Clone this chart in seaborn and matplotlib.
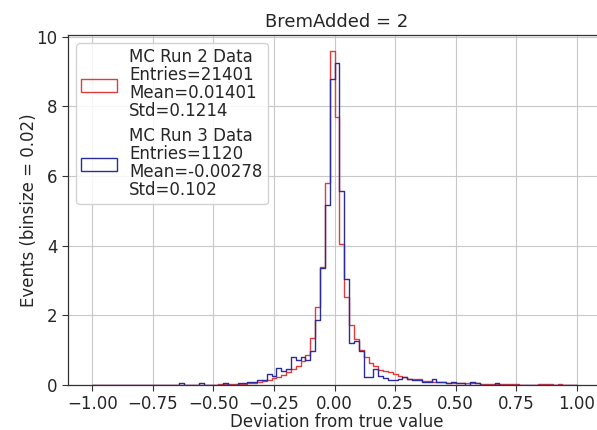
import numpy as np
import pandas as pd
import matplotlib
matplotlib.use("Agg")
import matplotlib.pyplot as plt
import seaborn as sns
from matplotlib.patches import Patch

# ---- data ----
bin_edges = [round(-1.0 + 0.02 * i, 2) for i in range(101)]   # binsize = 0.02

# normalised heights per bin (100 bins from -1.00 to 1.00)
run2_heights = [
    0, 0, 0, 0, 0, 0, 0, 0, 0, 0,                                  # -1.00 .. -0.82
    0, 0, 0, 0, 0, 0, 0, 0, 0, 0,                                  # -0.80 .. -0.62
    0, 0, 0, 0, 0, 0.01, 0.015, 0.02, 0.025, 0.03,                 # -0.60 .. -0.42
    0.035, 0.04, 0.05, 0.07, 0.09, 0.11, 0.15, 0.19, 0.24, 0.30,    # -0.40 .. -0.22
    0.38, 0.45, 0.55, 0.68, 0.85, 1.35, 2.24, 3.38, 5.81, 9.59,     # -0.20 .. -0.02
    7.69, 4.05, 2.54, 1.71, 1.31, 1.00, 0.81, 0.62, 0.55, 0.44,     #  0.00 ..  0.18
    0.40, 0.36, 0.33, 0.27, 0.22, 0.17, 0.17, 0.16, 0.12, 0.12,     #  0.20 ..  0.38
    0.10, 0.09, 0.08, 0.07, 0.06, 0.06, 0.05, 0.05, 0.045, 0.045,   #  0.40 ..  0.58
    0.04, 0.04, 0.04, 0.04, 0.04, 0.04, 0.04, 0.04, 0, 0,          #  0.60 ..  0.78
    0, 0, 0.04, 0.04, 0.04, 0, 0.04, 0, 0, 0,                      #  0.80 ..  0.98
]
run3_heights = [
    0, 0, 0, 0, 0, 0, 0, 0, 0, 0,                                  # -1.00 .. -0.82
    0, 0, 0, 0, 0, 0, 0, 0, 0.045, 0,                              # -0.80 .. -0.62
    0, 0, 0.045, 0, 0, 0, 0, 0.045, 0, 0,                          # -0.60 .. -0.42
    0.045, 0.045, 0.09, 0.09, 0.13, 0.13, 0.31, 0.27, 0.49, 0.40,  # -0.40 .. -0.22
    0.45, 0.80, 0.71, 0.80, 0.71, 0.98, 1.88, 3.35, 5.18, 8.79,    # -0.20 .. -0.02
    9.24, 5.58, 3.04, 1.21, 1.25, 0.98, 0.22, 0.22, 0.47, 0.25,    #  0.00 ..  0.18
    0.20, 0.13, 0.13, 0.16, 0.22, 0.16, 0.13, 0.13, 0.09, 0.09,    #  0.20 ..  0.38
    0.18, 0.09, 0.09, 0.045, 0.09, 0.045, 0.045, 0, 0.09, 0.045,   #  0.40 ..  0.58
    0, 0, 0, 0.045, 0, 0, 0, 0, 0, 0,                              #  0.60 ..  0.78
    0, 0, 0, 0, 0, 0, 0, 0, 0, 0,                                  #  0.80 ..  0.98
]

series_names = ["MC Run 2 Data", "MC Run 3 Data"]
entries = [21401, 1120]
means = ["0.01401", "-0.00278"]
stds = ["0.1214", "0.102"]
colors = ["#e23b3b", "#2b2b9e"]

title = "BremAdded = 2"
xlabel = "Deviation from true value"
ylabel = "Events (binsize = 0.02)"
x_ticks = [-1.00, -0.75, -0.50, -0.25, 0.00, 0.25, 0.50, 0.75, 1.00]
y_ticks = [0, 2, 4, 6, 8, 10]

centers = [round(e + 0.01, 3) for e in bin_edges[:-1]]
df = pd.DataFrame({"center": centers, "run2": run2_heights, "run3": run3_heights})

# ---- plot ----
sns.set_theme(style="ticks")
plt.rcParams["font.family"] = ["DejaVu Sans"]

fig = plt.figure(figsize=(5.97, 4.30), dpi=100)
# right spine lies just beyond the picture edge, as in the reference
ax = fig.add_axes([68 / 597, 45 / 430, 538 / 597, 350 / 430])

for col, c in zip(["run2", "run3"], colors):
    sns.histplot(x=df["center"], weights=df[col], bins=bin_edges,
                 element="step", fill=False, color=c, linewidth=1.0, ax=ax)

ax.set_xlim(-1.1, 1.12)
ax.set_ylim(0, 10.05)
ax.set_xticks(x_ticks)
ax.set_yticks(y_ticks)
ax.set_xticklabels([f"{t:.2f}".replace("-", "\u2212") for t in x_ticks])
ax.tick_params(labelsize=12, length=4, width=0.8, color="#333333")
ax.grid(True, color="#c8c8c8", linewidth=0.8)
ax.set_axisbelow(True)
for s in ax.spines.values():
    s.set_color("#333333")
    s.set_linewidth(0.9)

ax.set_title(title, fontsize=13)
ax.set_xlabel(xlabel, fontsize=12, labelpad=0)
ax.set_ylabel(ylabel, fontsize=12, labelpad=-1)

handles = []
for name, n, m, sd, c in zip(series_names, entries, means, stds, colors):
    label = f"{name}\nEntries={n}\nMean={m}\nStd={sd}"
    handles.append(Patch(facecolor="none", edgecolor=c, linewidth=1.0, label=label))
leg = ax.legend(handles=handles, loc="upper left", fontsize=12,
                handlelength=2.15, handleheight=0.85, handletextpad=0.72,
                borderpad=0.3, labelspacing=0.4,
                frameon=True, framealpha=0.85, edgecolor="#cccccc")
for t in leg.get_texts():
    t.set_linespacing(1.0)

fig.savefig("out.png", dpi=100)
